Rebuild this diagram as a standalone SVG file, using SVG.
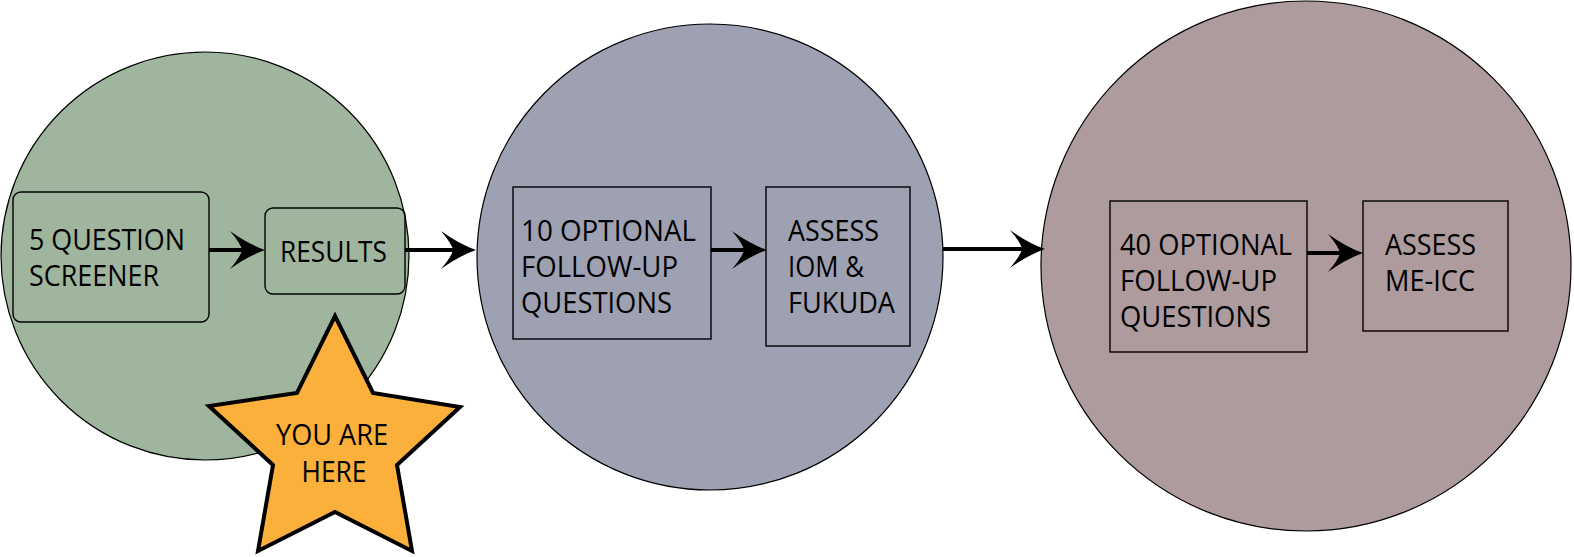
<svg xmlns="http://www.w3.org/2000/svg" width="1574" height="557" viewBox="0 0 1574 557">
<style>
.c{stroke:#000;stroke-width:1.2}
.b{fill:none;stroke:#000;stroke-width:1.4}
.t{font-family:"Open Sans","Noto Sans",sans-serif;font-size:29px;fill:#000}
.ln{stroke:#000;stroke-width:4;fill:none}
</style>
<defs>
<path id="ah" d="M0,0 Q-17,-6 -35,-19 Q-24,-6 -23,0 Q-24,6 -35,19 Q-17,6 0,0 Z" fill="#000"/>
</defs>
<g id="stage1">
<circle class="c" cx="205" cy="256" r="204" fill="#9FB59E"/>
</g>
<g id="stage2">
<circle class="c" cx="710" cy="257" r="233" fill="#9EA1B2"/>
</g>
<g id="stage3">
<circle class="c" cx="1306" cy="266" r="265" fill="#AE9B9E"/>
</g>
<g id="screener">
<rect class="b" x="13" y="192" width="196" height="130" rx="8"/>
<text class="t" x="29" y="250" textLength="156" lengthAdjust="spacingAndGlyphs">5 QUESTION</text>
<text class="t" x="29" y="286" textLength="130" lengthAdjust="spacingAndGlyphs">SCREENER</text>
</g>
<g id="results">
<rect class="b" x="265" y="208" width="140" height="86" rx="8"/>
<text class="t" x="280" y="262" textLength="107" lengthAdjust="spacingAndGlyphs">RESULTS</text>
</g>
<g id="followup10">
<rect class="b" x="513" y="187" width="198" height="152"/>
<text class="t" x="521" y="241" textLength="175" lengthAdjust="spacingAndGlyphs">10 OPTIONAL</text>
<text class="t" x="521" y="277" textLength="157" lengthAdjust="spacingAndGlyphs">FOLLOW-UP</text>
<text class="t" x="521" y="313" textLength="151" lengthAdjust="spacingAndGlyphs">QUESTIONS</text>
</g>
<g id="assess-iom">
<rect class="b" x="766" y="187" width="144" height="159"/>
<text class="t" x="788" y="241" textLength="91" lengthAdjust="spacingAndGlyphs">ASSESS</text>
<text class="t" x="788" y="277" textLength="76" lengthAdjust="spacingAndGlyphs">IOM &amp;</text>
<text class="t" x="788" y="313" textLength="107" lengthAdjust="spacingAndGlyphs">FUKUDA</text>
</g>
<g id="followup40">
<rect class="b" x="1110" y="201" width="197" height="151"/>
<text class="t" x="1120" y="255" textLength="172" lengthAdjust="spacingAndGlyphs">40 OPTIONAL</text>
<text class="t" x="1120" y="291" textLength="157" lengthAdjust="spacingAndGlyphs">FOLLOW-UP</text>
<text class="t" x="1120" y="327" textLength="151" lengthAdjust="spacingAndGlyphs">QUESTIONS</text>
</g>
<g id="assess-meicc">
<rect class="b" x="1363" y="201" width="145" height="130"/>
<text class="t" x="1385" y="255" textLength="91" lengthAdjust="spacingAndGlyphs">ASSESS</text>
<text class="t" x="1385" y="291" textLength="90" lengthAdjust="spacingAndGlyphs">ME-ICC</text>
</g>
<g id="connectors">
<line class="ln" x1="209" y1="250" x2="245" y2="250"/>
<use href="#ah" transform="translate(265,250)"/>
<line class="ln" x1="405" y1="250" x2="453" y2="250"/>
<use href="#ah" transform="translate(476,250)"/>
<line class="ln" x1="711" y1="250" x2="747" y2="250"/>
<use href="#ah" transform="translate(767,250)"/>
<line class="ln" x1="943" y1="249" x2="1022" y2="249"/>
<use href="#ah" transform="translate(1045,249)"/>
<line class="ln" x1="1307" y1="253" x2="1342" y2="253"/>
<use href="#ah" transform="translate(1363,253)"/>
</g>
<g id="you-are-here">
<polygon points="335,316 373,393 460,407 397,465 412,551 335,512 258,551 273,465 209,406 297,393" fill="#FBB03B" stroke="#000" stroke-width="4" stroke-linejoin="miter"/>
<text class="t" x="332" y="445" text-anchor="middle" textLength="112" lengthAdjust="spacingAndGlyphs">YOU ARE</text>
<text class="t" x="334" y="482" text-anchor="middle" textLength="65" lengthAdjust="spacingAndGlyphs">HERE</text>
</g>
</svg>
